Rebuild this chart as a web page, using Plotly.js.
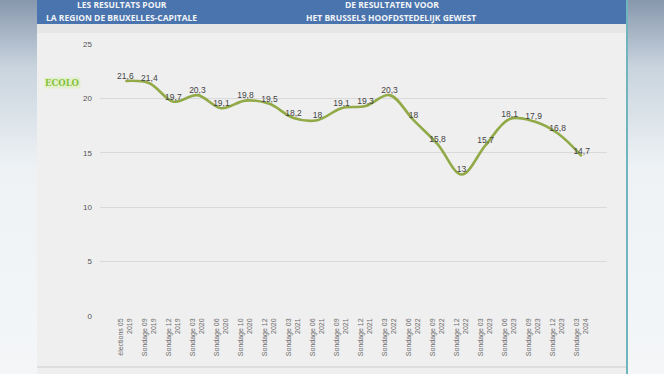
<!DOCTYPE html>
<html>
<head>
<meta charset="utf-8">
<script src="https://cdn.plot.ly/plotly-3.0.1.min.js"></script>
<style>
html,body{margin:0;padding:0;width:664px;height:374px;overflow:hidden;}
body{background:linear-gradient(180deg,#8797ad 0%,#c9d4de 18%,#eef2f5 45%,#f4f6f8 100%);}
#chart{width:664px;height:374px;}
</style>
</head>
<body>
<div id="chart"></div>
<script>
const categories = [
  "élections 05<br>2019","Sondage 09<br>2019","Sondage 12<br>2019","Sondage 03<br>2020",
  "Sondage 06<br>2020","Sondage 10<br>2020","Sondage 12<br>2020","Sondage 03<br>2021",
  "Sondage 06<br>2021","Sondage 09<br>2021","Sondage 12<br>2021","Sondage 03<br>2022",
  "Sondage 06<br>2022","Sondage 09<br>2022","Sondage 12<br>2022","Sondage 03<br>2023",
  "Sondage 06<br>2023","Sondage 09<br>2023","Sondage 12<br>2023","Sondage 03<br>2024"
];
const ecoloValues = [21.6,21.4,19.7,20.3,19.1,19.8,19.5,18.2,18,19.1,19.3,20.3,18,15.8,13,15.7,18.1,17.9,16.8,14.7];
const valueLabels = ecoloValues.map(v => String(v).replace('.', ','));
const yTicks = [0,5,10,15,20,25];
const seriesName = "ECOLO";

const trace = {
  x: categories,
  y: ecoloValues,
  type: 'scatter',
  mode: 'lines+text',
  line: {color: '#91aa47', width: 2.6, shape: 'spline', smoothing: 1},
  text: valueLabels,
  textposition: 'top center',
  textfont: {family: 'Liberation Sans, Arial, sans-serif', size: 8.5, color: '#444'},
  cliponaxis: false,
  hoverinfo: 'skip',
  showlegend: false
};

const px = x => (x - 100) / 507;
const py = y => (316 - y) / 272;
const hdrFont = {family: 'Open Sans, sans-serif', size: 8.5, color: '#f2f4f8', weight: 'bold'};

const layout = {
  width: 664, height: 374,
  margin: {l: 100, r: 57, t: 44, b: 58},
  paper_bgcolor: 'rgba(0,0,0,0)',
  plot_bgcolor: 'rgba(0,0,0,0)',
  xaxis: {
    type: 'category',
    tickangle: -90,
    tickfont: {family: 'Liberation Sans, Arial, sans-serif', size: 7, color: '#6a6a6a'},
    showgrid: false, zeroline: false, showline: false,
    ticks: '', ticklen: 0
  },
  yaxis: {
    range: [0, 25],
    tickvals: yTicks,
    ticktext: yTicks.map(String),
    tickfont: {family: 'Liberation Sans, Arial, sans-serif', size: 8, color: '#555'},
    showgrid: true, gridcolor: '#d9d9d9', gridwidth: 1,
    zeroline: false, showline: false, ticks: '', ticklabelstandoff: 7
  },
  shapes: [
    {type: 'rect', xref: 'paper', yref: 'paper', layer: 'below',
     x0: px(37), x1: px(626), y0: py(380), y1: py(-5), fillcolor: '#efefef', line: {width: 0}},
    {type: 'rect', xref: 'paper', yref: 'paper', layer: 'below',
     x0: px(37), x1: px(626), y0: py(33), y1: py(24), fillcolor: '#e6e6e6', line: {width: 0}},
    {type: 'rect', xref: 'paper', yref: 'paper', layer: 'below',
     x0: px(37), x1: px(626), y0: py(24), y1: py(-5), fillcolor: '#4a74ae', line: {width: 0}},
    {type: 'line', xref: 'paper', yref: 'paper', layer: 'below',
     x0: px(627), x1: px(627), y0: py(380), y1: py(-5), line: {color: '#6fb5bd', width: 2}},
    {type: 'line', xref: 'paper', yref: 'paper', layer: 'below',
     x0: px(37), x1: px(626), y0: py(367), y1: py(367), line: {color: '#d8d8d8', width: 1.5}}
  ],
  annotations: [
    {xref: 'paper', yref: 'paper', x: px(122), y: py(4), xanchor: 'center', yanchor: 'middle',
     text: 'LES RESULTATS POUR', showarrow: false, font: hdrFont},
    {xref: 'paper', yref: 'paper', x: px(121), y: py(18), xanchor: 'center', yanchor: 'middle',
     text: 'LA REGION DE BRUXELLES-CAPITALE', showarrow: false, font: hdrFont},
    {xref: 'paper', yref: 'paper', x: px(392), y: py(4), xanchor: 'center', yanchor: 'middle',
     text: 'DE RESULTATEN VOOR', showarrow: false, font: hdrFont},
    {xref: 'paper', yref: 'paper', x: px(391), y: py(18), xanchor: 'center', yanchor: 'middle',
     text: 'HET BRUSSELS HOOFDSTEDELIJK GEWEST', showarrow: false, font: hdrFont},
    {xref: 'paper', yref: 'paper', x: px(62), y: py(83), xanchor: 'center', yanchor: 'middle',
     text: seriesName, showarrow: false,
     font: {family: 'DejaVu Serif, serif', size: 8.5, color: '#86c23a', weight: 'bold'},
     bgcolor: '#e3f0cc', borderpad: 0}
  ]
};

Plotly.newPlot('chart', [trace], layout, {staticPlot: true, displayModeBar: false});
</script>
</body>
</html>
